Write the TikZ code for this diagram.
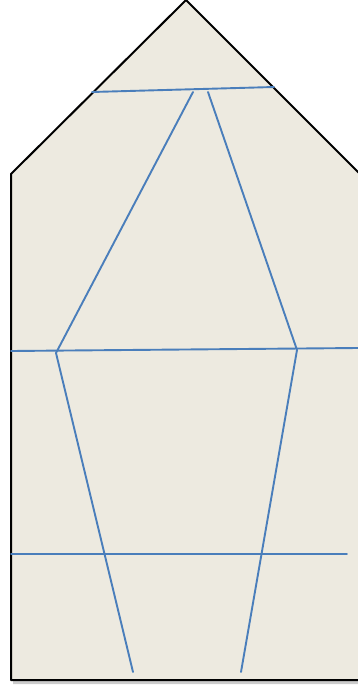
\documentclass[tikz,border=0pt]{standalone}
\usepackage{tikz}
\usetikzlibrary{shadows}
\definecolor{paper}{HTML}{EDEAE0}
\definecolor{blue}{HTML}{4A7EBB}
\tikzset{
  every picture/.style={line join=round, line cap=round},
  outline/.style={draw=black, line width=2pt, fill=paper, drop shadow={shadow xshift=2pt, shadow yshift=-4pt, opacity=0.4}},
  strut/.style={draw=blue, line width=1.9pt},
}

\begin{document}
\begin{tikzpicture}[x=1pt,y=-1pt]
\useasboundingbox (0,0) rectangle (358,688);
\draw[outline](11,680)--(11,174)--(186,0)--(362,176)--(362,680)--cycle;
% points of the frame
\coordinate (tl) at (92,92);
\coordinate (tr) at (274,87);
\coordinate (al) at (193,92);
\coordinate (ar) at (208,92);
\coordinate (ml) at (11,351);
\coordinate (mr) at (358,348);
\coordinate (kl) at (56,353);
\coordinate (kr) at (297,350);
\coordinate (fl) at (133,672);
\coordinate (fr) at (241,672);
\coordinate (bl) at (11,554);
\coordinate (br) at (347,554);
\draw[strut](tl)--(tr);
\draw[strut](al)--(kl)--(fl);
\draw[strut](ar)--(kr)--(fr);
\draw[strut](ml)--(mr);
\draw[strut](bl)--(br);
\end{tikzpicture}
\end{document}
